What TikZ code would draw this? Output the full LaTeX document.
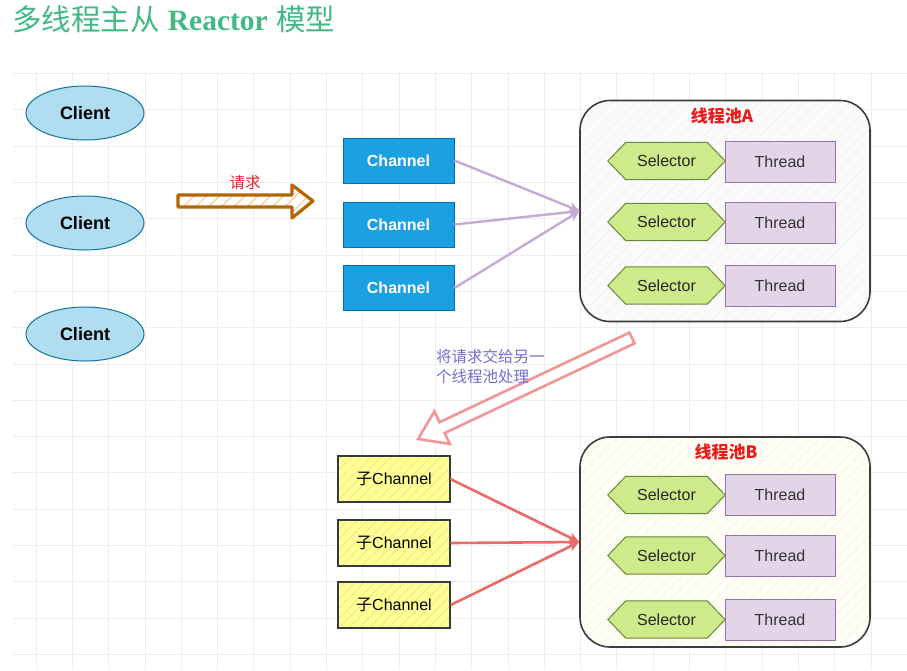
\documentclass[tikz,border=0pt]{standalone}
\usepackage{fontspec}
\setmainfont{Liberation Sans}
\newfontfamily\cjk{Noto Sans CJK SC}
\newfontfamily\titleserif{Liberation Serif}
\usetikzlibrary{shapes.geometric,patterns.meta,arrows.meta,calc}

\definecolor{gridc}{RGB}{238,238,238}
\definecolor{titlegreen}{RGB}{66,185,131}
\definecolor{clientfill}{RGB}{177,221,240}
\definecolor{clientline}{RGB}{16,115,158}
\definecolor{chanfill}{RGB}{27,161,226}
\definecolor{chanline}{RGB}{0,110,175}
\definecolor{selfill}{RGB}{205,235,139}
\definecolor{selline}{RGB}{105,135,60}
\definecolor{thfill}{RGB}{225,213,231}
\definecolor{thline}{RGB}{150,115,166}
\definecolor{poolline}{RGB}{60,60,60}
\definecolor{poolhatch}{RGB}{240,240,240}
\definecolor{subfill}{RGB}{255,255,150}
\definecolor{subhatch}{RGB}{232,232,120}
\definecolor{subline}{RGB}{54,57,61}
\definecolor{reqline}{RGB}{180,101,4}
\definecolor{reqhatch}{RGB}{250,195,130}
\definecolor{reqtext}{RGB}{225,35,45}
\definecolor{pinkline}{RGB}{241,150,150}
\definecolor{handtext}{RGB}{110,110,210}
\definecolor{pooltitle}{RGB}{235,25,25}
\definecolor{purplearrow}{RGB}{198,170,214}
\definecolor{redarrow}{RGB}{234,107,102}

\tikzset{
  gridline/.style={draw=gridc, line width=0.8pt},
  client/.style={ellipse, draw=clientline, fill=clientfill, line width=1pt,
    minimum width=118pt, minimum height=54pt, inner sep=0pt,
    font=\fontsize{18}{20}\selectfont\bfseries},
  chanbox/.style={rectangle, draw=chanline, fill=chanfill, line width=0.8pt,
    minimum width=111pt, minimum height=45pt, inner sep=0pt, text=white,
    font=\fontsize{16}{18}\selectfont\bfseries},
  subbox/.style={rectangle, draw=subline, line width=1.4pt,
    preaction={fill=subfill},
    pattern={Lines[angle=45,distance=7pt,line width=0.7pt]}, pattern color=subhatch,
    minimum width=112pt, minimum height=46pt, inner sep=0pt,
    font=\fontsize{16}{18}\selectfont},
  poolbox/.style={rectangle, rounded corners=30pt, draw=poolline, line width=1.6pt,
    preaction={fill=#1},
    pattern={Lines[angle=45,distance=8pt,line width=0.6pt]}, pattern color=poolhatch,
    minimum width=290pt, inner sep=0pt},
  pooltitle/.style={text=pooltitle, font=\fontsize{17}{19}\selectfont\bfseries\cjk},
  seltext/.style={minimum width=117pt, minimum height=37pt, inner sep=0pt,
    text=black!85, font=\fontsize{16}{18}\selectfont},
  selshape/.style={draw=selline, fill=selfill, line width=1pt},
  thbox/.style={rectangle, draw=thline, fill=thfill, line width=1pt,
    minimum width=110pt, minimum height=41pt, inner sep=0pt,
    text=black!80, font=\fontsize{16}{18}\selectfont},
  parrow/.style={draw=purplearrow, line width=2.4pt, -{Stealth[length=11pt,width=10pt]}},
  rarrow/.style={draw=redarrow, line width=2.6pt, -{Stealth[length=11pt,width=10pt]}},
}

\newcommand{\selnode}[3]{%
  \node[seltext] (#1) at (#2,#3) {};
  \draw[selshape] (#1.west) -- ([xshift=18pt]#1.north west) -- ([xshift=-18pt]#1.north east)
    -- (#1.east) -- ([xshift=-18pt]#1.south east) -- ([xshift=18pt]#1.south west) -- cycle;
  \node[seltext] (#1t) at (#1) {Selector};
}

\begin{document}
\begin{tikzpicture}[x=1pt,y=-1pt]
\useasboundingbox (0,0) rectangle (907,670);
\fill[white] (0,0) rectangle (907,670);

% grid
\foreach \i in {0,...,23} {\draw[gridline] ({36+36.3*\i},72) -- ({36+36.3*\i},670);}
\foreach \j in {0,...,16} {\draw[gridline] (12,{73.5+36.3*\j}) -- (907,{73.5+36.3*\j});}

% title
\node[anchor=base west, inner sep=0pt, text=titlegreen, font=\fontsize{29.5}{31}\selectfont] (title) at (12,30)
  {{\cjk 多线程主从} {\titleserif\bfseries Reactor} {\cjk 模型}};

% clients
\node[client] (c1) at (85,113) {Client};
\node[client] (c2) at (85,223) {Client};
\node[client] (c3) at (85,334) {Client};

% request arrow
\draw[draw=reqline, line width=3.2pt, line join=round, preaction={fill=white},
  pattern={Lines[angle=45,distance=9pt,line width=1pt]}, pattern color=reqhatch]
  (178,195) -- (292,195) -- (292,185) -- (313,201) -- (292,218) -- (292,207) -- (178,207) -- cycle;
\node[text=reqtext, font=\fontsize{15.5}{17}\selectfont\cjk] (req) at (245,183) {请求};

% channels
\node[chanbox] (ch1) at (398.5,160.5) {Channel};
\node[chanbox] (ch2) at (398.5,224.5) {Channel};
\node[chanbox] (ch3) at (398.5,288) {Channel};

% pool A
\node[poolbox={white!97!gray}, minimum height=221pt] (pa) at (725,211) {};
\node[pooltitle] (pat) at (722,116) {线程池A};
\selnode{sa1}{666.5}{161}
\selnode{sa2}{666.5}{222}
\selnode{sa3}{666.5}{285.5}
\node[thbox] (ta1) at (780,161.5) {Thread};
\node[thbox] (ta2) at (780,222.5) {Thread};
\node[thbox] (ta3) at (780,286) {Thread};

\draw[parrow] (ch1.east) -- (pa.west);
\draw[parrow] (ch2.east) -- (pa.west);
\draw[parrow] (ch3.east) -- (pa.west);

% hand-over arrow
\begin{scope}[shift={(632,338)}, rotate=205.27]
  \draw[draw=pinkline, line width=2.6pt, fill=white, line join=miter]
    (0,-6) -- (210,-6) -- (210,-18) -- (236.6,0) -- (210,18) -- (210,6) -- (0,6) -- cycle;
\end{scope}
\node[anchor=north west, inner sep=0pt, align=left, text=handtext,
  font=\fontsize{15.5}{20}\selectfont\cjk] (hand) at (436,349) {将请求交给另一\\个线程池处理};

% pool B
\node[poolbox={white!96!yellow}, minimum height=210pt] (pb) at (725,542) {};
\node[pooltitle] (pbt) at (726,452) {线程池B};
\selnode{sb1}{666.5}{495}
\selnode{sb2}{666.5}{555.5}
\selnode{sb3}{666.5}{619.5}
\node[thbox] (tb1) at (780,495) {Thread};
\node[thbox] (tb2) at (780,556) {Thread};
\node[thbox] (tb3) at (780,620) {Thread};

% sub channels
\node[subbox] (s1) at (394,479) {{\cjk 子}Channel};
\node[subbox] (s2) at (394,543) {{\cjk 子}Channel};
\node[subbox] (s3) at (394,605) {{\cjk 子}Channel};

\draw[rarrow] (s1.east) -- (pb.west);
\draw[rarrow] (s2.east) -- (pb.west);
\draw[rarrow] (s3.east) -- (pb.west);
\end{tikzpicture}
\end{document}
